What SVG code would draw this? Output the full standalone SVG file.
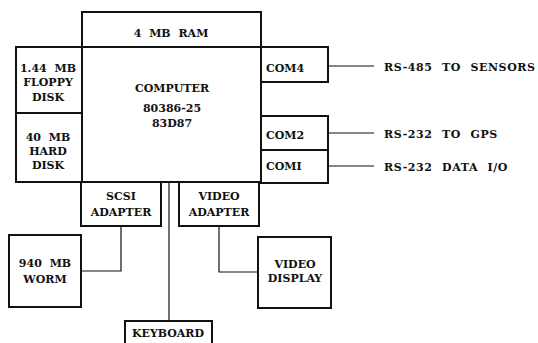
<svg xmlns="http://www.w3.org/2000/svg" width="538" height="343" viewBox="0 0 538 343">
<style>
.b{fill:none;stroke:#111;stroke-width:2}
.c{fill:none;stroke:#111;stroke-width:1.2}
text{font-family:"DejaVu Serif","Liberation Serif",serif;font-weight:bold;font-size:11px;word-spacing:4px;fill:#111}
.m{text-anchor:middle}
.l{letter-spacing:0.6px;word-spacing:5px}
</style>
<rect width="538" height="343" fill="#fff"/>
<g id="ram"><rect class="b" x="82" y="12" width="179" height="35"/><text class="m" x="171" y="37">4 MB RAM</text></g>
<g id="computer"><rect class="b" x="82" y="47" width="179" height="135"/>
<text class="m" x="172" y="92">COMPUTER</text><text class="m" x="172" y="112">80386-25</text><text class="m" x="172" y="127">83D87</text></g>
<g id="floppy"><rect class="b" x="16" y="47" width="66" height="66"/>
<text class="m" x="48" y="72">1.44 MB</text><text class="m" x="48" y="86">FLOPPY</text><text class="m" x="48" y="101">DISK</text></g>
<g id="hard"><rect class="b" x="16" y="113" width="66" height="69"/>
<text class="m" x="48" y="141">40 MB</text><text class="m" x="48" y="155">HARD</text><text class="m" x="48" y="169">DISK</text></g>
<g id="com4"><rect class="b" x="261" y="47" width="67" height="35"/><text x="266" y="72">COM4</text></g>
<g id="com2"><rect class="b" x="261" y="116" width="67" height="34"/><text x="266" y="139">COM2</text></g>
<g id="com1"><rect class="b" x="261" y="150" width="67" height="33"/><text x="266" y="170">COMI</text></g>
<g id="scsi"><rect class="b" x="81" y="182" width="80" height="44"/>
<text class="m" x="121" y="200">SCSI</text><text class="m" x="121" y="216">ADAPTER</text></g>
<g id="videoadapter"><rect class="b" x="179" y="182" width="80" height="44"/>
<text class="m" x="219" y="200">VIDEO</text><text class="m" x="219" y="216">ADAPTER</text></g>
<g id="worm"><rect class="b" x="9" y="235" width="72" height="72"/>
<text class="m" x="45" y="267">940 MB</text><text class="m" x="45" y="283">WORM</text></g>
<g id="display"><rect class="b" x="258" y="237" width="73" height="71"/>
<text class="m" x="295" y="268">VIDEO</text><text class="m" x="295" y="282">DISPLAY</text></g>
<g id="keyboard"><rect class="b" x="125" y="321" width="87" height="24"/><text class="m" x="168" y="337">KEYBOARD</text></g>
<g id="labels">
<text class="l" x="384" y="71">RS-485 TO SENSORS</text>
<text class="l" x="384" y="138">RS-232 TO GPS</text>
<text class="l" x="384" y="171">RS-232 DATA I/O</text>
</g>
<g id="connectors">
<path class="c" d="M328 66H374M328 133H374M328 166H374"/>
<path class="c" d="M121 226V271H81"/>
<path class="c" d="M219 226V272H258"/>
<path class="c" d="M169 182V321"/>
</g>
</svg>
